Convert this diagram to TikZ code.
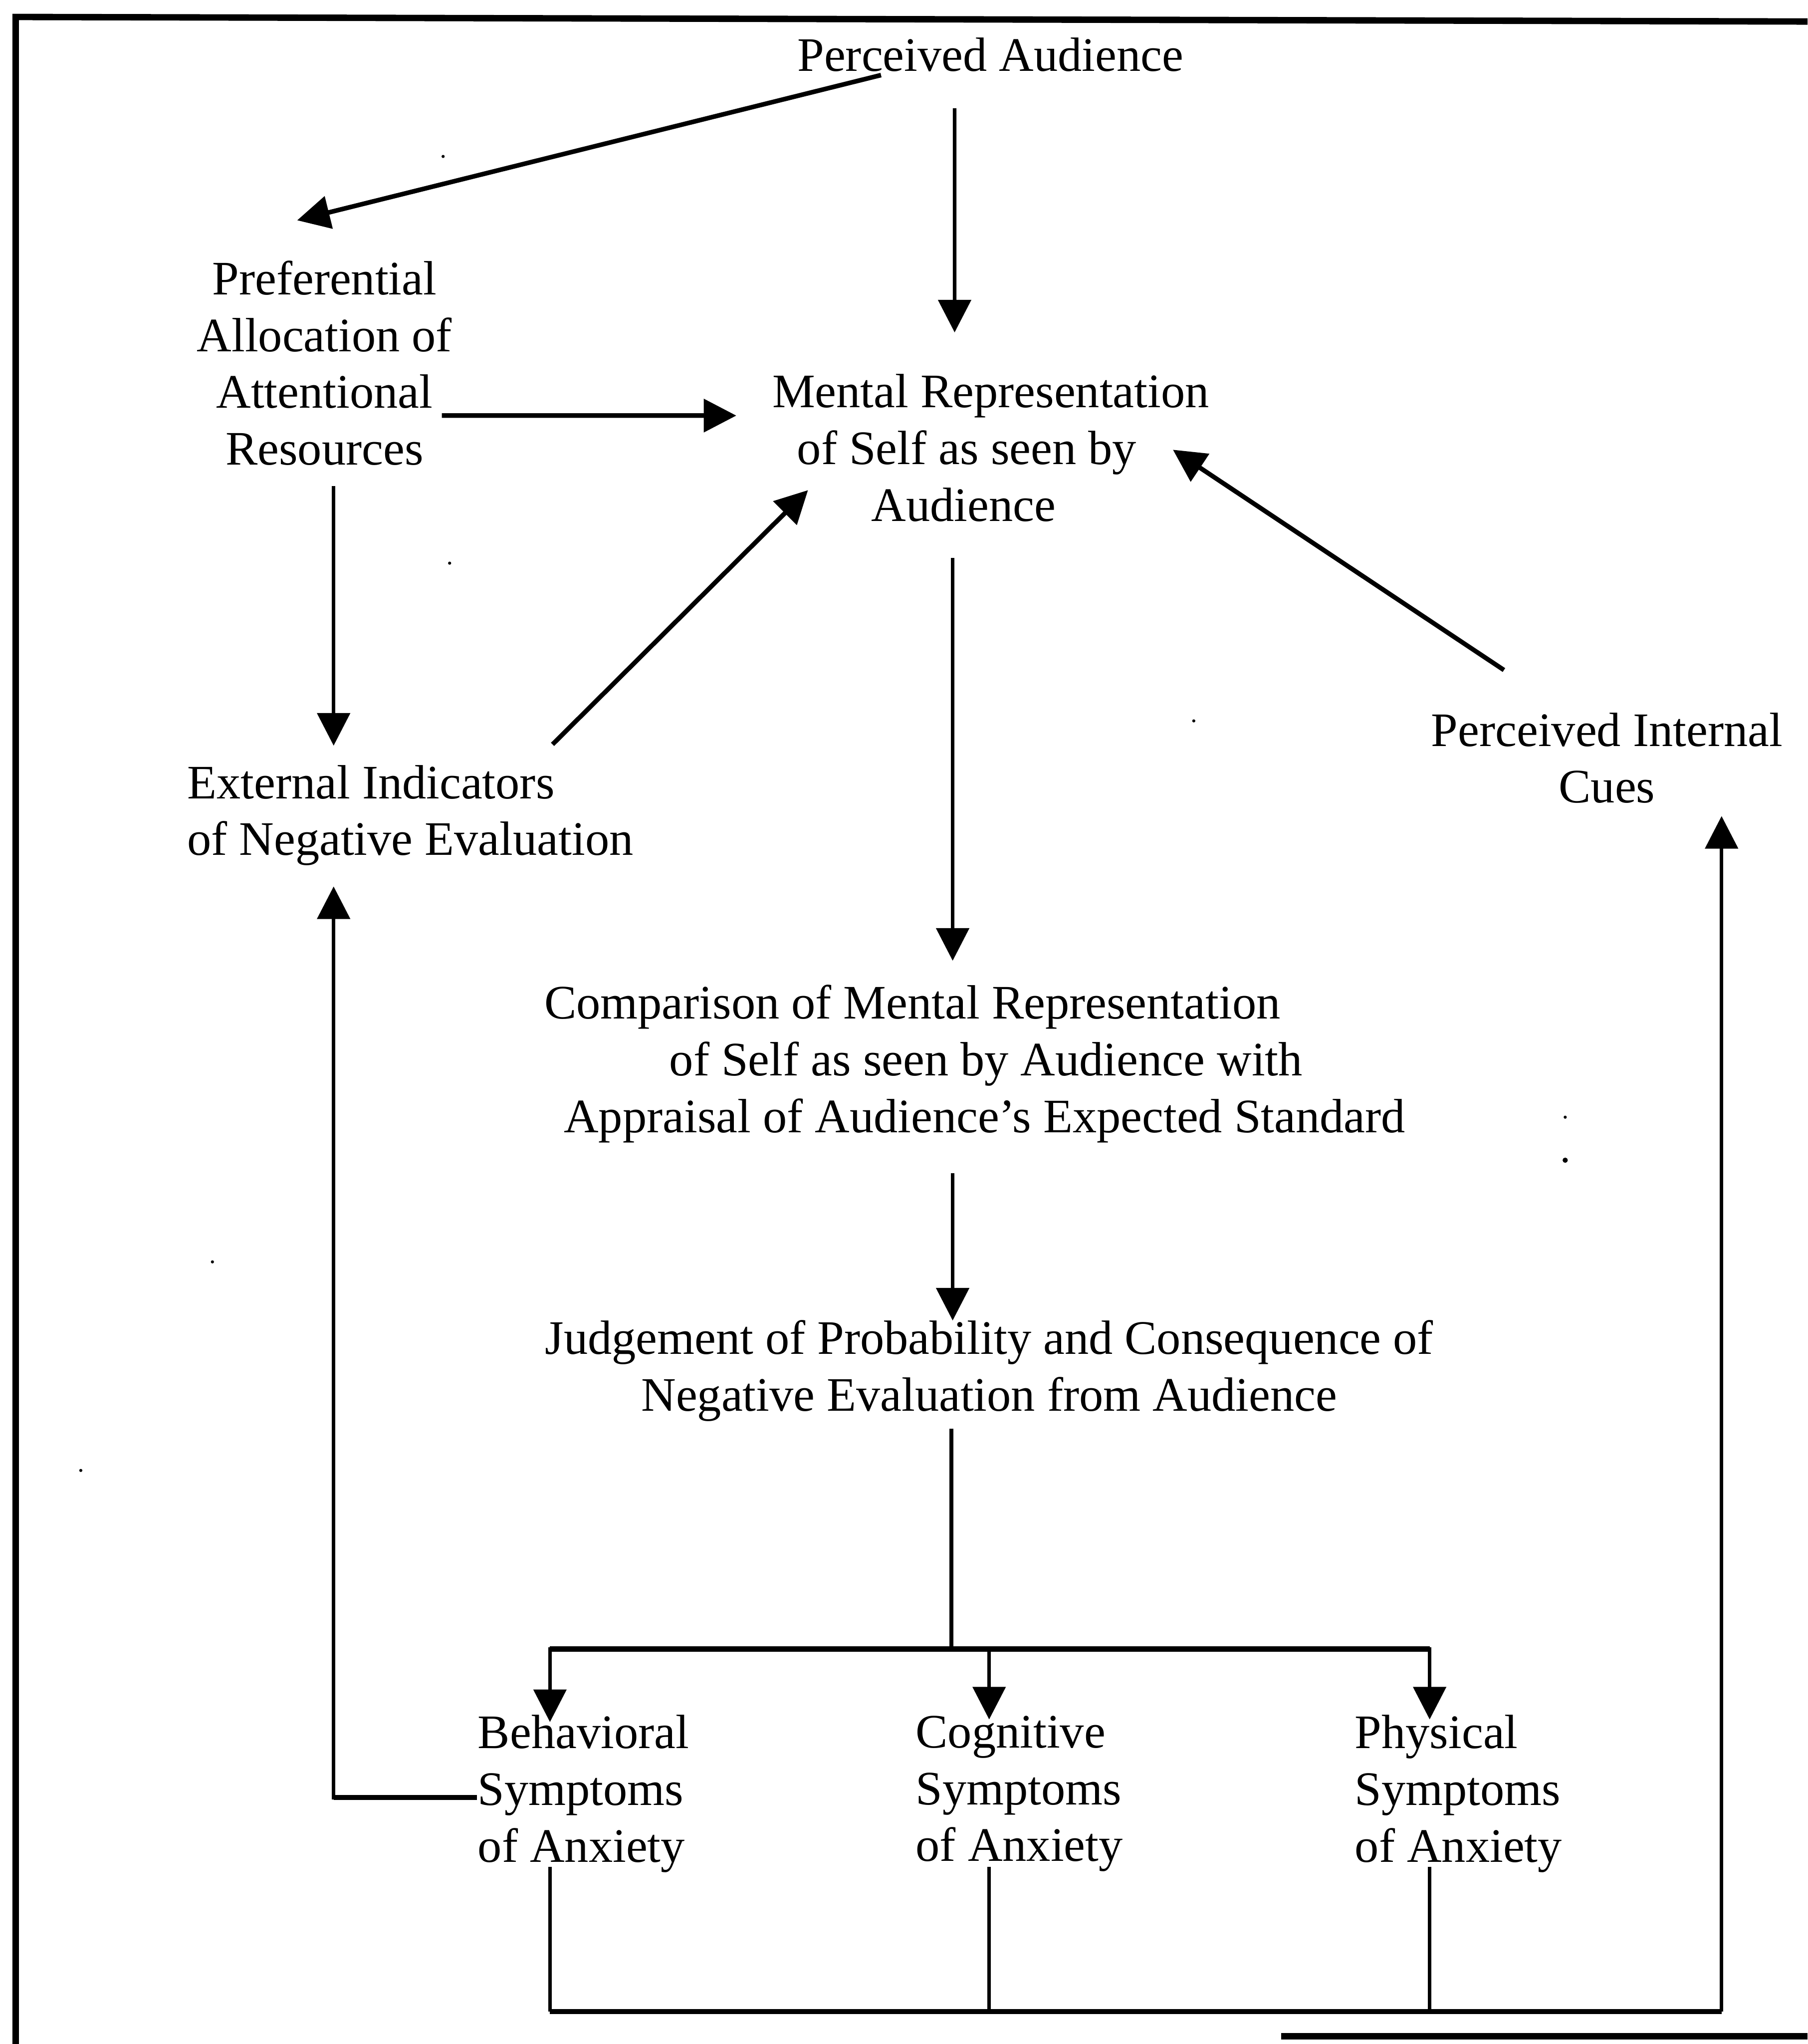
\documentclass[tikz,border=0pt]{standalone}
\usepackage{fontspec}
\setmainfont{Liberation Serif}
\usetikzlibrary{arrows.meta}
\begin{document}
\begin{tikzpicture}[x=0.1mm,y=-0.1mm,
  lbl/.style={font=\fontsize{10.5}{12.4}\selectfont, inner sep=0pt, align=center},
  lbll/.style={font=\fontsize{10.5}{12.4}\selectfont, inner sep=0pt, align=left, anchor=west},
  arr/.style={-{Triangle[length=2.5mm,width=2.5mm]}, line width=1pt},
  varr/.style={-{Triangle[length=2.5mm,width=2.5mm]}, line width=0.8pt},
  ln/.style={line width=0.8pt},
  hln/.style={line width=1.1pt},
  frame/.style={line width=1.4pt},
  speck/.style={fill=black}]
\useasboundingbox (0,0) rectangle (1387,1568);

% frame
\draw[frame] (12,1568) -- (12,13) -- (1387,16.5);
\draw[frame] (983,1562) -- (1387,1562);

% nodes
\node[lbl] (pa) at (760,42) {Perceived Audience};
\node[lbl] (pref) at (249,278.5) {Preferential\\Allocation of\\Attentional\\Resources};
\node[lbll] (mr) at (592,343.5) {Mental Representation\\\hspace*{1.9mm}of Self as seen by\\\hspace*{7.6mm}Audience};
\node[lbll] (ext) at (143,625.5) {External Indicators\\of Negative Evaluation};
\node[lbl] (pic) at (1233,581.5) {Perceived Internal\\Cues};
\node[lbll] (cmp) at (417,816) {Comparison of Mental Representation\\\hspace*{9.6mm}of Self as seen by Audience with\\\hspace*{1.5mm}Appraisal of Audience’s Expected Standard};
\node[lbl] (jud) at (759,1051.5) {Judgement of Probability and Consequence of\\Negative Evaluation from Audience};
\node[lbll] (beh) at (366,1376) {Behavioral\\Symptoms\\of Anxiety};
\node[lbll] (cog) at (702,1376) {Cognitive\\Symptoms\\of Anxiety};
\node[lbll] (phy) at (1039,1376) {Physical\\Symptoms\\of Anxiety};

% connectors
\draw[arr] ([shift={(-84,15.6)}]pa.center) -- ([shift={(-21,-109.5)}]pref.center);
\draw[varr] ([shift={(-27.5,41)}]pa.center) -- ([shift={(140.5,-88.5)}]mr.west);
\draw[arr] ([shift={(90,40.3)}]pref.center) -- ([shift={(-27,-24.7)}]mr.west);
\draw[varr] ([shift={(7,94.5)}]pref.center) -- ([shift={(113,-53.5)}]ext.west);
\draw[arr] ([shift={(281,-54.5)}]ext.west) -- ([shift={(28,32.5)}]mr.west);
\draw[arr] ([shift={(-79,-67.5)}]pic.center) -- ([shift={(308,1.5)}]mr.west);
\draw[varr] ([shift={(139,84.5)}]mr.west) -- ([shift={(314,-79)}]cmp.west);
\draw[varr] ([shift={(314,84)}]cmp.west) -- ([shift={(-28,-38.5)}]jud.center);

% split to symptoms
\coordinate (split) at (730,1265);
\draw[ln] ([shift={(-29,44.5)}]jud.center) -- (split);
\draw[varr] (split) -| ([shift={(56,-55)}]beh.west);
\draw[varr] (split) -| ([shift={(57,-57)}]cog.west);
\draw[varr] (split) -| ([shift={(58,-57)}]phy.west);
\draw[hln] ([shift={(56,0)}]beh.west |- split) -- ([shift={(58,0)}]phy.west |- split);

% behavioral -> external
\draw[varr] ([shift={(0,3)}]beh.west) -| ([shift={(113,54.5)}]ext.west);
\draw[hln] ([shift={(0,3)}]beh.west) -- ++(-110,0);

% feedback loop to perceived internal cues
\coordinate (loop) at (1321,1543);
\draw[ln] ([shift={(56,56)}]beh.west) -- ([shift={(56,0)}]beh.west |- loop);
\draw[ln] ([shift={(57,56)}]cog.west) -- ([shift={(57,0)}]cog.west |- loop);
\draw[ln] ([shift={(58,56)}]phy.west) -- ([shift={(58,0)}]phy.west |- loop);
\draw[hln] ([shift={(56,0)}]beh.west |- loop) -- (loop);
\draw[varr] (loop) -- ([shift={(88,44.5)}]pic.center);

% scan specks
\fill[speck] (340,120) circle[radius=0.12mm];
\fill[speck] (345,432) circle[radius=0.12mm];
\fill[speck] (916,553) circle[radius=0.12mm];
\fill[speck] (1201,857) circle[radius=0.12mm];
\fill[speck] (1201,890) circle[radius=0.2mm];
\fill[speck] (163,968) circle[radius=0.12mm];
\fill[speck] (62,1128) circle[radius=0.12mm];
\end{tikzpicture}
\end{document}
